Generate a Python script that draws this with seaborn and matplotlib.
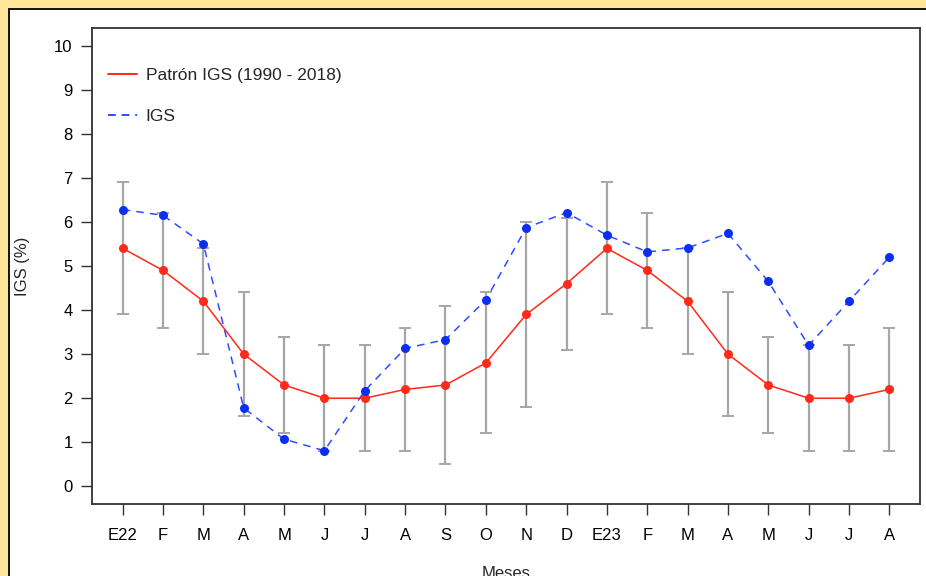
import numpy as np
import pandas as pd
import matplotlib
matplotlib.use("Agg")
import matplotlib.pyplot as plt
from matplotlib.patches import Rectangle
from matplotlib.lines import Line2D
import seaborn as sns

meses = ["E22", "F", "M", "A", "M", "J", "J", "A", "S", "O", "N", "D",
         "E23", "F", "M", "A", "M", "J", "J", "A"]
patron = [5.4, 4.9, 4.2, 3.0, 2.3, 2.0, 2.0, 2.2, 2.3, 2.8, 3.9, 4.6,
          5.4, 4.9, 4.2, 3.0, 2.3, 2.0, 2.0, 2.2]
patron_min = [3.9, 3.6, 3.0, 1.6, 1.2, 0.8, 0.8, 0.8, 0.5, 1.2, 1.8, 3.1,
              3.9, 3.6, 3.0, 1.6, 1.2, 0.8, 0.8, 0.8]
patron_max = [6.9, 6.2, 5.4, 4.4, 3.4, 3.2, 3.2, 3.6, 4.1, 4.4, 6.0, 6.1,
              6.9, 6.2, 5.4, 4.4, 3.4, 3.2, 3.2, 3.6]
igs = [6.28, 6.15, 5.50, 1.78, 1.07, 0.81, 2.17, 3.13, 3.33, 4.23, 5.87, 6.21,
       5.70, 5.32, 5.41, 5.74, 4.65, 3.20, 4.20, 5.20]

sns.set_style("white")
plt.rcParams["font.family"] = ["Liberation Sans", "DejaVu Sans"]

pos = np.arange(1, len(meses) + 1)
df = pd.DataFrame({"pos": pos, "patron": patron, "igs": igs,
                   "lo": patron_min, "hi": patron_max})

fig = plt.figure(figsize=(9.26, 5.76), dpi=100)
fig.patch.set_facecolor("#FFE699")
# white inner panel (runs off the right and bottom edges)
panel = Rectangle((9 / 926, -0.1), 1.2, 1 - 9 / 576 + 0.1,
                  transform=fig.transFigure, facecolor="white",
                  edgecolor="black", linewidth=1.3, zorder=-5)
fig.patches.append(panel)

ax = fig.add_axes([92 / 926, 72 / 576, 828 / 926, 476 / 576])
ax.set_zorder(1)
ax.set_facecolor("white")

# error bars of the historical pattern
ax.errorbar(df["pos"], df["patron"],
            yerr=[df["patron"] - df["lo"], df["hi"] - df["patron"]],
            fmt="none", ecolor="#a6a6a6", elinewidth=1.6, capsize=4.5,
            capthick=1.4, zorder=2)

sns.lineplot(data=df, x="pos", y="patron", ax=ax, color="#ff2a1a",
             linewidth=1.1, marker="o", markersize=6.5, markeredgewidth=0,
             markerfacecolor="#ff2a1a", zorder=3)
sns.lineplot(data=df, x="pos", y="igs", ax=ax, color="#2f4dff",
             linewidth=1.1, linestyle=(0, (5, 4)), marker="o", markersize=6.5,
             markeredgewidth=0, markerfacecolor="#0a2ff0", zorder=4)

ax.set_xlim(0.24, 20.76)
ax.set_ylim(-0.4, 10.4)
ax.set_yticks(range(0, 11))
ax.set_xticks(pos)
ax.set_xticklabels(meses)
ax.tick_params(axis="y", direction="out", length=8, width=1, colors="#333333",
               labelcolor="black", labelsize=12, pad=6, left=True)
ax.tick_params(axis="x", direction="out", length=8, width=1, colors="#333333",
               labelcolor="black", labelsize=12, pad=9, bottom=True)
for s in ax.spines.values():
    s.set_color("#333333")
    s.set_linewidth(1.3)

ax.set_xlabel("Meses", fontsize=12, labelpad=17)
ax.set_ylabel("IGS (%)", fontsize=12, labelpad=17)

handles = [Line2D([0], [0], color="#ff2a1a", linewidth=1.4),
           Line2D([0], [0], color="#2f4dff", linewidth=1.4, linestyle=(0, (4, 3)))]
ax.legend(handles, ["Patrón IGS (1990 - 2018)", "IGS"], loc="upper left",
          bbox_to_anchor=(0.0, 0.95), frameon=False, fontsize=12.5,
          labelspacing=1.5, handlelength=1.7, handletextpad=0.5)

fig.savefig("out.png", dpi=100, facecolor=fig.get_facecolor())
